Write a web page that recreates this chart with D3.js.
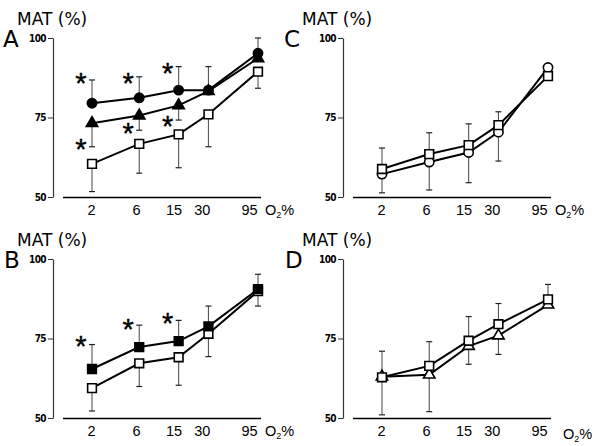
<!DOCTYPE html>
<html><head><meta charset="utf-8">
<script src="https://cdn.jsdelivr.net/npm/d3@7"></script>
<style>
html,body{margin:0;padding:0;background:#fff;}
svg{display:block;font-family:"DejaVu Sans",Verdana,sans-serif;}
</style></head>
<body><svg id="chart" width="600" height="446"></svg>
<script>
// ---------- data ----------
const o2Levels = [2, 6, 15, 30, 95];
const xTickLabels = ["2", "6", "15", "30", "95"];
const yTickValues = [50, 75, 100];

// Panel A
const aCircleMean   = [79.5, 81.2, 83.6, 83.6, 95.2];
const aCircleSD     = [7.3, 6.6, 7.4, 7.4, 4.8];     // drawn upward
const aTriangleMean = [73.2, 75.6, 78.8, 83.3, 93.6];
const aTriangleSD   = [7.4, 4.6, 4.6, 0, 0];         // drawn downward
const aSquareMean   = [60.4, 66.7, 69.7, 76.0, 89.4];
const aSquareSD     = [8.7, 9.2, 10.5, 10.2, 5.2];    // drawn downward
const aStarX        = [2, 2, 6, 6, 15, 15];
const aStarY        = [87.7, 67.0, 87.7, 72.0, 90.9, 74.2];

// Panel B
const bFilledMean   = [65.4, 72.3, 74.2, 78.8, 90.5];
const bFilledSD     = [7.7, 6.9, 6.5, 6.4, 4.7];      // upward
const bOpenMean     = [59.4, 67.2, 69.1, 76.5, 89.9];
const bOpenSD       = [7.2, 7.3, 8.8, 7.2, 4.7];      // downward
const bStarX        = [2, 6, 15];
const bStarY        = [74.4, 79.9, 81.8];

// Panel C
const cSquareMean   = [58.8, 63.5, 66.3, 72.6, 88.0];
const cSquareSD     = [6.6, 6.7, 6.7, 4.2, 0];        // upward
const cCircleMean   = [57.2, 61.0, 64.0, 70.4, 90.7];
const cCircleSD     = [5.9, 8.8, 9.5, 9.1, 0];        // downward

// Panel D
const dSquareMean   = [62.8, 66.4, 74.3, 79.5, 87.3];
const dSquareSD     = [8.2, 7.6, 7.6, 6.5, 4.7];      // upward
const dTriangleMean = [63.0, 63.6, 72.6, 75.9, 85.6];
const dTriangleSD   = [12.0, 11.6, 5.7, 5.9, 0];      // downward

// ---------- layout ----------
const panels = [
  {letter: "A", left: 0, top: 0, titleX: 17, letterX: 3,
   series: [
     {mean: aSquareMean, sd: aSquareSD, dir: 1, shape: "square", fill: "#fff"},
     {mean: aTriangleMean, sd: aTriangleSD, dir: 1, shape: "triangle", fill: "#000"},
     {mean: aCircleMean, sd: aCircleSD, dir: -1, shape: "circle", fill: "#000"}
   ], starX: aStarX, starY: aStarY, o2dx: 0, o2dy: 0},
  {letter: "C", left: 290, top: 0, titleX: 302, letterX: 284,
   series: [
     {mean: cCircleMean, sd: cCircleSD, dir: 1, shape: "circle", fill: "#fff"},
     {mean: cSquareMean, sd: cSquareSD, dir: -1, shape: "square", fill: "#fff"}
   ], starX: [], starY: [], o2dx: 0, o2dy: 0},
  {letter: "B", left: 0, top: 221, titleX: 17, letterX: 4,
   series: [
     {mean: bOpenMean, sd: bOpenSD, dir: 1, shape: "square", fill: "#fff"},
     {mean: bFilledMean, sd: bFilledSD, dir: -1, shape: "square", fill: "#000"}
   ], starX: bStarX, starY: bStarY, o2dx: 0, o2dy: 0},
  {letter: "D", left: 290, top: 221, titleX: 302, letterX: 285,
   series: [
     {mean: dTriangleMean, sd: dTriangleSD, dir: 1, shape: "triangle", fill: "#fff"},
     {mean: dSquareMean, sd: dSquareSD, dir: -1, shape: "square", fill: "#fff"}
   ], starX: [], starY: [], o2dx: 8, o2dy: 3}
];

const svg = d3.select("#chart");
const x = d3.scaleLog().domain([2, 95]).range([92, 258]);
const xLabel = d3.scaleLog().domain([2, 95]).range([91, 249]);   // tick label placement
const y = d3.scaleLinear().domain([50, 100]).range([197, 38]);

const symbolFor = {
  square: d3.symbol().type(d3.symbolSquare).size(76),
  circle: d3.symbol().type(d3.symbolCircle).size(68),
  triangle: d3.symbol().type(d3.symbolTriangle).size(56)
};

panels.forEach(p => {
  const g = svg.append("g").attr("transform", `translate(${p.left},${p.top})`);

  // title and letter
  g.append("text").attr("x", p.titleX - p.left).attr("y", 25)
    .attr("font-size", 17).text("MAT (%)");
  g.append("text").attr("x", p.letterX - p.left).attr("y", 47)
    .attr("font-size", 23).text(p.letter);

  // y axis
  const ya = g.append("g").attr("transform", "translate(53,0)")
    .call(d3.axisLeft(y).tickValues(yTickValues).tickSize(5).tickSizeOuter(0).tickPadding(2));
  ya.select(".domain").attr("stroke", "#333").attr("stroke-width", 1.2);
  ya.selectAll(".tick line").attr("stroke", "#333");
  ya.selectAll(".tick text").attr("font-size", 10).attr("font-weight", "bold")
    .attr("letter-spacing", -0.6).attr("font-family", "DejaVu Sans Condensed, DejaVu Sans, sans-serif");

  // x axis
  const xa = g.append("g").attr("transform", `translate(0,${y(50)})`)
    .call(d3.axisBottom(x).tickValues(o2Levels).tickSize(0).tickPadding(8)
      .tickFormat((d, i) => xTickLabels[i]));
  xa.select(".domain").remove();
  xa.selectAll(".tick text").attr("font-size", 14.5).attr("fill", "#000")
    .attr("dx", d => xLabel(d) - x(d));
  xa.append("line").attr("x1", 63).attr("x2", 261).attr("y1", 0.5).attr("y2", 0.5)
    .attr("stroke", "#000").attr("stroke-width", 1.4);
  const o2 = xa.append("text").attr("x", 265 + p.o2dx).attr("y", 18 + p.o2dy)
    .attr("font-size", 14.5).attr("fill", "#000").attr("text-anchor", "start");
  o2.append("tspan").text("O");
  o2.append("tspan").attr("font-size", 9).attr("dy", 3).text("2");
  o2.append("tspan").attr("dy", -3).text("%");

  // error bars
  p.series.forEach(s => {
    const eb = g.append("g");
    o2Levels.forEach((lv, i) => {
      if (!s.sd[i]) return;
      const cx = x(lv);
      const y0 = y(s.mean[i]);
      const y1 = y(s.mean[i] - s.dir * s.sd[i]);
      eb.append("line").attr("x1", cx).attr("x2", cx).attr("y1", y0).attr("y2", y1)
        .attr("stroke", "#555").attr("stroke-width", 1.1);
      eb.append("line").attr("x1", cx - 3).attr("x2", cx + 3).attr("y1", y1).attr("y2", y1)
        .attr("stroke", "#222").attr("stroke-width", 1.2);
    });
  });

  // lines
  const line = d3.line().x((d, i) => x(o2Levels[i])).y(d => y(d));
  p.series.forEach(s => {
    g.append("path").attr("d", line(s.mean)).attr("fill", "none")
      .attr("stroke", "#000").attr("stroke-width", 2);
  });

  // markers
  p.series.forEach(s => {
    g.append("g").selectAll("path").data(s.mean).join("path")
      .attr("transform", (d, i) => `translate(${x(o2Levels[i])},${y(d)})`)
      .attr("d", symbolFor[s.shape]())
      .attr("fill", s.fill).attr("stroke", "#000").attr("stroke-width", 1.6);
  });

  // significance asterisks
  p.starX.forEach((sx, i) => {
    g.append("text").attr("x", x(sx) - 11).attr("y", y(p.starY[i]) + 16)
      .attr("text-anchor", "middle").attr("font-size", 29)
      .attr("fill", "#000").attr("stroke", "#000").attr("stroke-width", 0.4)
      .attr("font-family", "Liberation Sans, DejaVu Sans, sans-serif").text("*");
  });
});
</script></body></html>
